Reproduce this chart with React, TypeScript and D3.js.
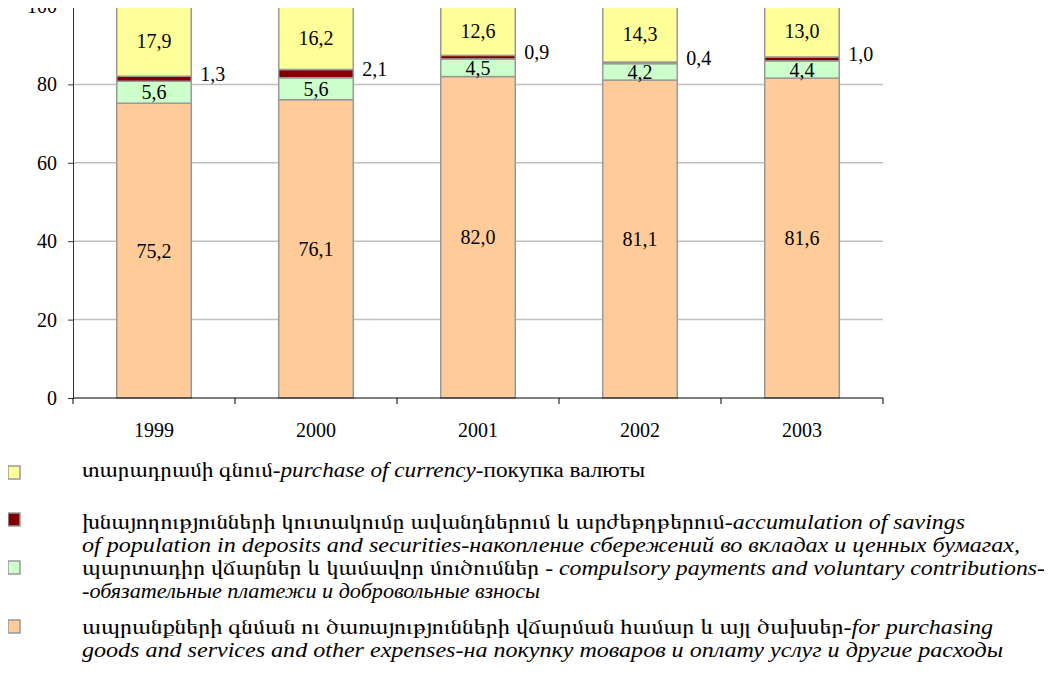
import * as d3 from "d3";
import { useEffect, useRef } from "react";

const years = ["1999", "2000", "2001", "2002", "2003"];
const goods = [75.2, 76.1, 82.0, 81.1, 81.6];
const compulsory = [5.6, 5.6, 4.5, 4.2, 4.4];
const savings = [1.3, 2.1, 0.9, 0.4, 1.0];
const currency = [17.9, 16.2, 12.6, 14.3, 13.0];
const yTicks = [0, 20, 40, 60, 80, 100];

const seriesKeys = ["goods", "compulsory", "savings", "currency"];
const seriesColors = ["#FFCC99", "#CCFFCC", "#800000", "#FFFF99"];

// legend rows: [colour, square y, lines, baselines, line widths]; each line is a list of [text, italic] parts
const legendRows: [string, number, [string, boolean][][], number[], number[]][] = [
  ["#FFFF99", 466, [[["տարադրամի գնում-", false], ["purchase  of currency", true], ["-покупка валюты", false]]], [477], [563]],
  ["#800000", 513, [
    [["խնայողությունների կուտակումը  ավանդներում և արժեթղթերում-", false], ["accumulation of savings", true]],
    [["of  population in deposits and securities", true], ["-накопление сбережений во вкладах и ценных бумагах,", true]],
  ], [529, 552], [883, 938]],
  ["#CCFFCC", 561, [
    [["պարտադիր վճարներ և կամավոր մուծումներ - ", false], ["compulsory payments  and voluntary contributions-", true]],
    [["-обязательные платежи и добровольные взносы", true]],
  ], [575, 598], [963, 458]],
  ["#FFCC99", 620, [
    [["ապրանքների գնման ու ծառայությունների վճարման համար և այլ  ծախսեր-", false], ["for purchasing", true]],
    [["goods and services and other expenses", true], ["-на покупку товаров и оплату услуг и другие расходы", true]],
  ], [634, 657], [911, 921]],
];

const font = '"Liberation Serif", FreeSerif, serif';

export default function App() {
  const ref = useRef<SVGSVGElement>(null);

  useEffect(() => {
    const svg = d3.select(ref.current);
    svg.selectAll("*").remove();

    const x = d3.scaleBand().domain(years).range([73, 883]).paddingInner(0.54).paddingOuter(0.27);
    const y = d3.scaleLinear().domain([0, 100]).range([398, 6]);

    const table = years.map((yr, i) => ({
      year: yr,
      goods: goods[i],
      compulsory: compulsory[i],
      savings: savings[i],
      currency: currency[i],
    }));
    const stacked = d3.stack<any>().keys(seriesKeys)(table);

    // gridlines
    svg.append("g")
      .selectAll("line")
      .data(yTicks.filter((t) => t > 0))
      .join("line")
      .attr("x1", 73).attr("x2", 883)
      .attr("y1", (d) => y(d)).attr("y2", (d) => y(d))
      .attr("stroke", "#c0c0c0").attr("stroke-width", 1.5);

    // bars
    stacked.forEach((layer, li) => {
      svg.append("g")
        .selectAll("rect")
        .data(layer)
        .join("rect")
        .attr("x", (d: any) => x(d.data.year)!)
        .attr("width", x.bandwidth())
        .attr("y", (d) => y(d[1]))
        .attr("height", (d) => y(d[0]) - y(d[1]))
        .attr("fill", seriesColors[li])
        .attr("stroke", "#999")
        .attr("stroke-width", 1.5);
    });

    // value labels
    const fmt = (v: number) => v.toFixed(1).replace(".", ",");
    stacked.forEach((layer, li) => {
      const outside = seriesKeys[li] === "savings";
      svg.append("g")
        .selectAll("text")
        .data(layer)
        .join("text")
        .attr("x", (d: any) => outside ? x(d.data.year)! + x.bandwidth() + 9 : x(d.data.year)! + x.bandwidth() / 2)
        .attr("y", (d) => outside ? y((d[0] + d[1]) / 2) - 5 : y((d[0] + d[1]) / 2))
        .attr("text-anchor", outside ? "start" : "middle")
        .attr("dominant-baseline", "central")
        .style("font-family", font)
        .style("font-size", "20px")
        .text((d) => fmt(d[1] - d[0]));
    });

    // y axis
    const yAxis = svg.append("g")
      .attr("transform", "translate(73,0)")
      .call(d3.axisLeft(y).tickValues(yTicks).tickSize(5).tickPadding(11));
    yAxis.selectAll("path,line").attr("stroke", "#333");
    yAxis.selectAll("text")
      .style("font-family", font).style("font-size", "20px").attr("fill", "#000");

    // x axis with ticks at band edges
    const xAxis = svg.append("g").attr("transform", "translate(0,398)");
    xAxis.append("line").attr("x1", 73).attr("x2", 883).attr("stroke", "#000").attr("stroke-width", 1.2);
    const edges = years.map((yr) => x(yr)! - (x.step() * x.paddingInner()) / 2).concat([883]);
    xAxis.selectAll("line.tick")
      .data(edges)
      .join("line")
      .attr("class", "tick")
      .attr("x1", (d) => d).attr("x2", (d) => d)
      .attr("y1", 0).attr("y2", 6)
      .attr("stroke", "#000");
    xAxis.selectAll("text")
      .data(years)
      .join("text")
      .attr("x", (d) => x(d)! + x.bandwidth() / 2)
      .attr("y", 39)
      .attr("text-anchor", "middle")
      .style("font-family", font)
      .style("font-size", "20px")
      .text((d) => d);

    // legend
    const legend = svg.append("g");
    legendRows.forEach(([color, sy, lines, ys, widths]) => {
      legend.append("rect")
        .attr("x", 8).attr("y", sy)
        .attr("width", 12).attr("height", 13)
        .attr("fill", color)
        .attr("stroke", "#999").attr("stroke-width", 1.5);
      lines.forEach((parts, k) => {
        const t = legend.append("text")
          .attr("x", 82).attr("y", ys[k])
          .style("font-family", font)
          .style("font-size", "21px")
          .attr("textLength", widths[k])
          .attr("lengthAdjust", "spacingAndGlyphs");
        parts.forEach(([s, it]) => {
          t.append("tspan").style("font-style", it ? "italic" : "normal").text(s);
        });
      });
    });
  }, []);

  return <svg ref={ref} width={1052} height={686} style={{ display: "block", margin: "-8px" }} />;
}
